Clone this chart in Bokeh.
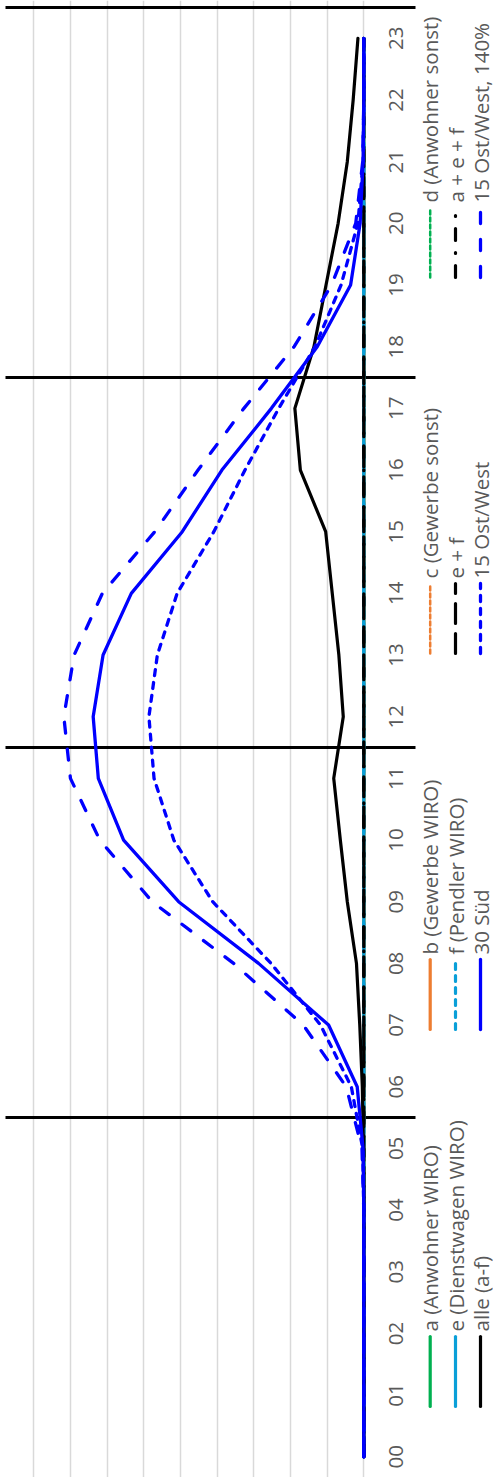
import math
from bokeh.plotting import figure
from bokeh.models import Range1d, Grid, FixedTicker
from bokeh.core.properties import value
from bokeh.embed import file_html
from bokeh.resources import INLINE

# ---------------- data ----------------
hour_labels = ["00", "01", "02", "03", "04", "05", "06", "07", "08", "09", "10", "11",
               "12", "13", "14", "15", "16", "17", "18", "19", "20", "21", "22", "23"]
hours = list(range(24))

zero = [0.0] * 24
a_anwohner_wiro = zero
b_gewerbe_wiro = zero
c_gewerbe_sonst = zero
d_anwohner_sonst = zero
e_dienstwagen_wiro = zero
f_pendler_wiro = zero
e_plus_f = zero
a_plus_e_plus_f = zero
alle = [0, 0, 0, 0, 0, 0.01, 0.04, 0.11, 0.20, 0.45, 0.64, 0.82,
        0.56, 0.68, 0.86, 1.04, 1.73, 1.88, 1.36, 1.03, 0.70, 0.45, 0.29, 0.16]
sued_30 = [0, 0, 0, 0, 0, 0.02, 0.18, 0.96, 2.87, 5.05, 6.55, 7.24,
           7.38, 7.11, 6.34, 4.95, 3.87, 2.52, 1.27, 0.36, 0.10, 0.02, 0, 0]
ostwest_15 = [0, 0, 0, 0, 0, 0.03, 0.34, 1.18, 2.53, 4.12, 5.18, 5.72,
              5.86, 5.63, 5.09, 4.09, 3.24, 2.32, 1.33, 0.62, 0.16, 0.02, 0, 0]
ostwest_15_140 = [0, 0, 0, 0, 0, 0.05, 0.48, 1.65, 3.55, 5.77, 7.20, 8.00,
                  8.18, 7.90, 7.13, 5.70, 4.52, 3.27, 1.90, 0.88, 0.22, 0.03, 0, 0]

series_names = ["a (Anwohner WIRO)", "b (Gewerbe WIRO)", "c (Gewerbe sonst)", "d (Anwohner sonst)",
                "e (Dienstwagen WIRO)", "f (Pendler WIRO)", "e + f", "a + e + f",
                "alle (a-f)", "30 Süd", "15 Ost/West", "15 Ost/West, 140%"]
series_values = [a_anwohner_wiro, b_gewerbe_wiro, c_gewerbe_sonst, d_anwohner_sonst,
                 e_dienstwagen_wiro, f_pendler_wiro, e_plus_f, a_plus_e_plus_f,
                 alle, sued_30, ostwest_15, ostwest_15_140]
separator_hours = [5.5, 11.5, 17.5, 23.5]
grid_values = list(range(10))

# ---------------- styles ----------------
GREEN = "#00B050"
ORANGE = "#ED7D31"
CYAN = "#0A9FD8"
BLUE = "#0000FF"
BLACK = "#000000"
styles = [
    dict(color=GREEN, width=3.2, dash="solid"),
    dict(color=ORANGE, width=3.2, dash="solid"),
    dict(color=ORANGE, width=2.5, dash="4 3"),
    dict(color=GREEN, width=2.5, dash="4 3"),
    dict(color=CYAN, width=3.2, dash="solid"),
    dict(color=CYAN, width=3.2, dash="6 6"),
    dict(color=BLACK, width=3.2, dash="20 10"),
    dict(color=BLACK, width=3.2, dash="12 12 1 12"),
    dict(color=BLACK, width=3.2, dash="solid"),
    dict(color=BLUE, width=3.3, dash="solid"),
    dict(color=BLUE, width=3.3, dash="6 7"),
    dict(color=BLUE, width=3.3, dash="11 16"),
]

FONT = value("Open Sans")
TEXT_COLOR = "#595959"
FS = "20.5px"

# pixel layout helpers (reference pixel coordinates -> data)
ZERO_PX, UNIT_PX = 363.3, 36.67
TOP_PX, HOUR_PX = 7.0, 61.67
def vx(px):
    return (ZERO_PX - px) / UNIT_PX
def hy(py):
    return 23.5 - (py - TOP_PX) / HOUR_PX

W, H = 493, 1477
p = figure(width=W, height=H, x_range=Range1d(vx(0), vx(W)), y_range=Range1d(hy(H), hy(0)),
           output_backend="svg", toolbar_location=None, x_axis_location=None, y_axis_location=None,
           min_border=0)
p.outline_line_color = None
p.background_fill_color = "white"
p.border_fill_color = "white"
for g in p.grid:
    g.visible = False

p.add_layout(Grid(dimension=0, ticker=FixedTicker(ticks=grid_values),
                  grid_line_color="#D9D9D9", grid_line_width=1.5))

# separator lines
p.segment(x0=[vx(5)] * len(separator_hours), x1=[vx(415)] * len(separator_hours),
          y0=separator_hours, y1=separator_hours, line_color=BLACK, line_width=3)

# series
for vals, st in zip(series_values, styles):
    p.line(x=vals, y=hours, line_color=st["color"], line_width=st["width"],
           line_dash=st["dash"], line_cap="round", line_join="round")

# hour labels
p.text(x=[vx(395)] * 24, y=hours, text=hour_labels, angle=math.pi / 2,
       text_align="center", text_baseline="middle", text_font=FONT,
       text_font_size=FS, text_color=TEXT_COLOR)

# legend (3 rows x 4 columns, rotated)
row_px = [429.7, 455.0, 480.0]
col_bottom_px = [1406.0, 1029.0, 653.0, 277.0]
sym_len = 70.0
tx, ty, tt = [], [], []
for i, (name, st) in enumerate(zip(series_names, styles)):
    r, c = i // 4, i % 4
    xp = row_px[r]
    yb = col_bottom_px[c]
    p.segment(x0=[vx(xp)], x1=[vx(xp)], y0=[hy(yb)], y1=[hy(yb - sym_len)],
              line_color=st["color"], line_width=st["width"], line_dash=st["dash"], line_cap="round")
    tx.append(vx(xp))
    ty.append(hy(yb - sym_len - 5))
    tt.append(name)
p.text(x=tx, y=ty, text=tt, angle=math.pi / 2, text_align="left", text_baseline="middle",
       text_font=FONT, text_font_size=FS, text_color=TEXT_COLOR)

open("out.html", "w").write(file_html(p, INLINE))
